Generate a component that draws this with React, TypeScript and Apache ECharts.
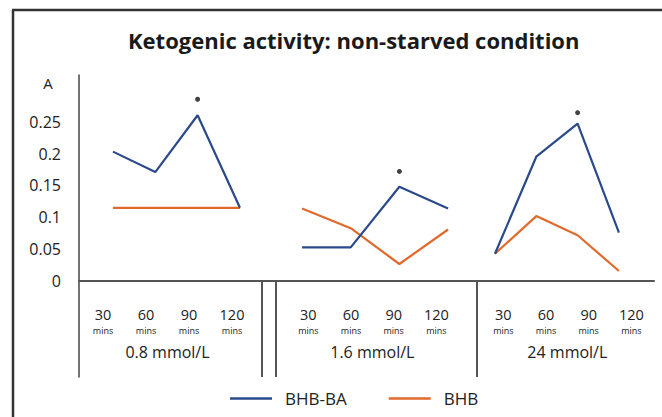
import React, { useEffect, useRef } from "react";
import * as echarts from "echarts";

const times = ["30", "60", "90", "120"];
const groups = ["0.8 mmol/L", "1.6 mmol/L", "24 mmol/L"];
const bhbBa = [
  [0.203, 0.171, 0.26, 0.115],
  [0.053, 0.053, 0.148, 0.114],
  [0.043, 0.195, 0.247, 0.076],
];
const bhb = [
  [0.115, 0.115, 0.115, 0.115],
  [0.114, 0.083, 0.027, 0.081],
  [0.043, 0.102, 0.072, 0.016],
];
const significance = [0.285, 0.172, 0.264];
const yTicks = [0, 0.05, 0.1, 0.15, 0.2, 0.25];

const BLUE = "#2b4a8b";
const ORANGE = "#e2692c";
const FONT = "Open Sans";
const INK = "#222";

export default function App() {
  const ref = useRef<HTMLDivElement>(null);
  useEffect(() => {
    document.body.style.margin = "0";
    const chart = echarts.init(ref.current!, null, { renderer: "svg" });

    const plotTop = 75;
    const plotH = 302;
    const yMin = -0.15;
    const yMax = 0.323;
    const dataGrids = [
      { left: 91.8, width: 169.3 },
      { left: 277.7, width: 194.7 },
      { left: 474.3, width: 165.3 },
    ];
    const labelGrids = [
      { left: 81.5, width: 172 },
      { left: 287, width: 170.7 },
      { left: 482, width: 170.7 },
    ];

    const grid: any[] = [{ left: 79, top: plotTop, width: 575, height: plotH }];
    dataGrids.forEach((g) => grid.push({ left: g.left, width: g.width, top: plotTop, height: plotH }));
    labelGrids.forEach((g) => grid.push({ left: g.left, width: g.width, top: 200, height: 81 }));

    const xAxis: any[] = [
      {
        gridIndex: 0,
        type: "value",
        min: 0,
        max: 1,
        axisLine: { show: true, onZero: true, lineStyle: { color: "#555", width: 2 } },
        axisTick: { show: false },
        axisLabel: { show: false },
        splitLine: { show: false },
      },
    ];
    const yAxis: any[] = [
      {
        gridIndex: 0,
        type: "value",
        min: yMin,
        max: yMax,
        interval: 0.05,
        name: "A",
        nameLocation: "end",
        nameGap: -8,
        nameTextStyle: {
          fontFamily: FONT,
          fontSize: 15,
          color: INK,
          align: "center",
          verticalAlign: "middle",
          padding: [0, 62, 0, 0],
        },
        axisLine: { show: true, lineStyle: { color: "#444", width: 1.5 } },
        axisTick: { show: false },
        splitLine: { show: false },
        axisLabel: {
          margin: 18,
          fontFamily: FONT,
          fontSize: 16,
          color: INK,
          formatter: (v: number) => {
            const t = yTicks.find((k) => Math.abs(k - v) < 1e-6);
            return t === undefined ? "" : String(t);
          },
        },
      },
    ];
    for (let i = 0; i < 3; i++) {
      xAxis.push({ gridIndex: i + 1, type: "category", data: times, boundaryGap: true, show: false });
      yAxis.push({ gridIndex: i + 1, type: "value", min: yMin, max: yMax, show: false });
    }
    for (let i = 0; i < 3; i++) {
      xAxis.push({
        gridIndex: i + 4,
        type: "category",
        data: times,
        boundaryGap: true,
        axisLine: { show: false },
        axisTick: { show: false },
        splitLine: { show: false },
        axisLabel: {
          margin: 23.5,
          interval: 0,
          formatter: (v: string) => `{n|${v}}\n{m|mins}`,
          rich: {
            n: { fontFamily: FONT, fontSize: 14.5, color: INK, lineHeight: 19.5 },
            m: { fontFamily: FONT, fontSize: 9, color: INK, lineHeight: 12.4 },
          },
        },
        name: groups[i],
        nameLocation: "middle",
        nameGap: 63,
        nameTextStyle: { fontFamily: FONT, fontSize: 16, color: INK },
      });
      yAxis.push({ gridIndex: i + 4, type: "value", show: false });
    }

    const series: any[] = [];
    for (let i = 0; i < 3; i++) {
      series.push({
        type: "line",
        name: "BHB-BA",
        xAxisIndex: i + 1,
        yAxisIndex: i + 1,
        data: bhbBa[i],
        symbol: "none",
        color: BLUE,
        lineStyle: { color: BLUE, width: 2.2 },
        z: 3,
      });
      series.push({
        type: "line",
        name: "BHB",
        xAxisIndex: i + 1,
        yAxisIndex: i + 1,
        data: bhb[i],
        symbol: "none",
        color: ORANGE,
        lineStyle: { color: ORANGE, width: 2.2 },
        z: 2,
      });
      series.push({
        type: "scatter",
        name: "significant",
        xAxisIndex: i + 1,
        yAxisIndex: i + 1,
        data: [[2, significance[i]]],
        symbolSize: 5,
        itemStyle: { color: "#111" },
      });
    }

    const vline = (x: number, y1: number, y2: number, w: number, c: string) => ({
      type: "line",
      shape: { x1: x, y1, x2: x, y2 },
      style: { stroke: c, lineWidth: w },
      silent: true,
    });

    chart.setOption({
      animation: false,
      backgroundColor: "#fff",
      textStyle: { fontFamily: FONT },
      title: {
        text: "Ketogenic activity: non-starved condition",
        left: 123,
        top: 24,
        textStyle: { fontFamily: FONT, fontSize: 22, fontWeight: "bold", color: "#1a1a1a" },
      },
      legend: {
        data: ["BHB-BA", "BHB"],
        left: 225,
        top: 385,
        icon: "rect",
        itemWidth: 42,
        itemHeight: 2.5,
        itemGap: 42,
        textStyle: { fontFamily: FONT, fontSize: 17, color: INK, padding: [0, 0, 0, 8] },
      },
      grid,
      xAxis,
      yAxis,
      series,
      graphic: [
        vline(13, 10, 417, 2.5, "#333"),
        { type: "line", shape: { x1: 12, y1: 10, x2: 662, y2: 10 }, style: { stroke: "#333", lineWidth: 2.5 }, silent: true },
        vline(262, 281, 377, 2, "#555"),
        vline(276, 281, 377, 2, "#555"),
        vline(477, 281, 377, 2, "#555"),
      ],
    });
    return () => chart.dispose();
  }, []);
  return <div ref={ref} style={{ width: 662, height: 417 }} />;
}
